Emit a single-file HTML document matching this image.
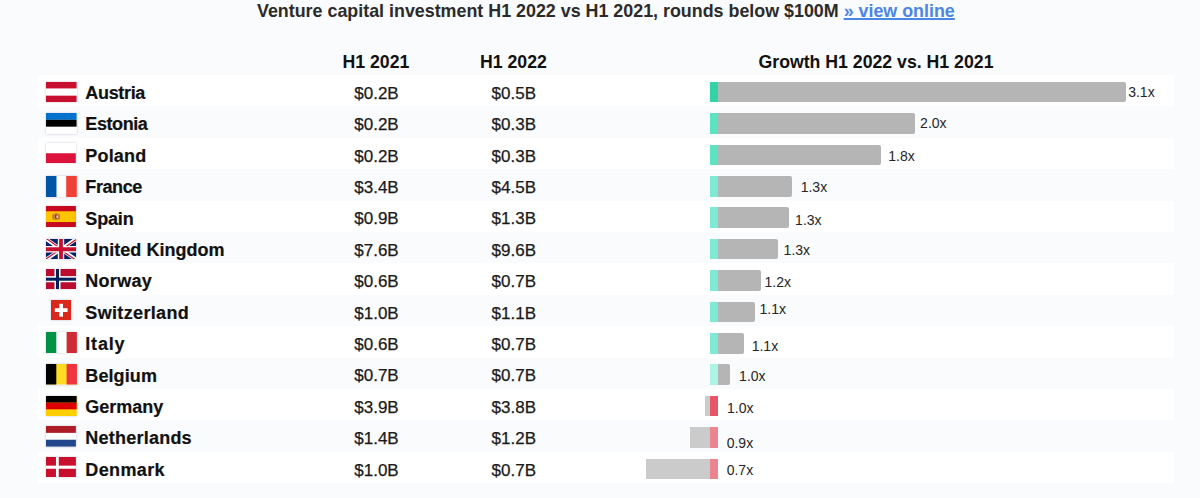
<!DOCTYPE html>
<html><head><meta charset="utf-8"><style>
*{margin:0;padding:0;box-sizing:border-box}
html,body{width:1200px;height:498px;overflow:hidden;background:#fafbfd}
body{position:relative;font-family:"Liberation Sans",Arial,sans-serif;color:#111}
.a{position:absolute;white-space:nowrap}
.row{position:absolute;left:38px;width:1136px;background:#fff}
.t{font-weight:700;font-size:17.88px;color:#2b2b2b;line-height:1}
.t a{color:#4a86e8;text-decoration:underline;text-underline-offset:1px;text-decoration-thickness:1.6px}
.h{font-weight:700;font-size:17.7px;color:#111;line-height:1}
.n{font-weight:700;font-size:18px;color:#111;-webkit-text-stroke:0.2px #111;line-height:1}
.v{font-weight:400;font-size:17px;color:#1a1a1a;-webkit-text-stroke:0.25px #1a1a1a;line-height:1;text-align:center;width:100px}
.l{font-weight:400;font-size:14px;color:#262626;line-height:1}
.bar{position:absolute;height:20.5px}
.fl{display:block;box-shadow:0 0 2px rgba(0,0,60,.22)}
</style></head><body>

<div class="row" style="top:75.00px;height:31.40px"></div>
<div class="row" style="top:137.80px;height:31.40px"></div>
<div class="row" style="top:200.60px;height:31.40px"></div>
<div class="row" style="top:263.40px;height:31.40px"></div>
<div class="row" style="top:326.20px;height:31.40px"></div>
<div class="row" style="top:389.00px;height:31.40px"></div>
<div class="row" style="top:451.80px;height:31.40px"></div>
<div class="a t" style="left:257px;top:3.07px">Venture capital investment H1 2022 vs H1 2021, rounds below $100M <a>» view online</a></div>
<div class="a h" style="left:342.5px;top:54.29px">H1 2021</div>
<div class="a h" style="left:480px;top:54.29px">H1 2022</div>
<div class="a h" style="left:758.5px;top:54.29px">Growth H1 2022 vs. H1 2021</div>
<svg class="a fl" style="left:46.3px;top:81.8px" width="30.6" height="20.1" viewBox="0 0 30 20" preserveAspectRatio="none"><rect width="30" height="20" fill="#fff"/><rect width="30" height="6.4" fill="#c8102e"/><rect y="13.6" width="30" height="6.4" fill="#c8102e"/></svg>
<div class="a n" style="left:85.3px;top:84.05px;letter-spacing:-0.333px">Austria</div>
<div class="a v" style="left:326.5px;top:84.78px">$0.2B</div>
<div class="a v" style="left:463.8px;top:84.78px">$0.5B</div>
<div class="bar" style="left:709.6px;top:81.85px;width:8.4px;background:#33d3a8"></div>
<div class="bar" style="left:718px;top:81.85px;width:407.70px;background:#b5b5b5;border-radius:0 2px 2px 0"></div>
<div class="a l" style="left:1128.20px;top:84.67px">3.1x</div>
<svg class="a fl" style="left:46.3px;top:113.1px" width="30.6" height="20.5" viewBox="0 0 30 20" preserveAspectRatio="none"><rect width="30" height="20" fill="#fff"/><rect width="30" height="6.67" fill="#0072ce"/><rect y="6.67" width="30" height="6.67" fill="#000"/></svg>
<div class="a n" style="left:85.3px;top:115.45px;letter-spacing:-0.417px">Estonia</div>
<div class="a v" style="left:326.5px;top:116.18px">$0.2B</div>
<div class="a v" style="left:463.8px;top:116.18px">$0.3B</div>
<div class="bar" style="left:709.6px;top:113.25px;width:8.4px;background:#5de2c2"></div>
<div class="bar" style="left:718px;top:113.25px;width:196.90px;background:#b5b5b5;border-radius:0 2px 2px 0"></div>
<div class="a l" style="left:920.10px;top:116.07px">2.0x</div>
<svg class="a fl" style="left:46.4px;top:142.9px" width="29.8" height="20.5" viewBox="0 0 30 20" preserveAspectRatio="none"><rect width="30" height="20" fill="#fff"/><rect y="10" width="30" height="10" fill="#dc143c"/></svg>
<div class="a n" style="left:85.3px;top:146.85px;letter-spacing:0.180px">Poland</div>
<div class="a v" style="left:326.5px;top:147.58px">$0.2B</div>
<div class="a v" style="left:463.8px;top:147.58px">$0.3B</div>
<div class="bar" style="left:709.6px;top:144.65px;width:8.4px;background:#5de2c2"></div>
<div class="bar" style="left:718px;top:144.65px;width:163.10px;background:#b5b5b5;border-radius:0 2px 2px 0"></div>
<div class="a l" style="left:888.30px;top:149.47px">1.8x</div>
<svg class="a fl" style="left:46.1px;top:175.7px" width="30.8" height="21.1" viewBox="0 0 30 20" preserveAspectRatio="none"><rect width="30" height="20" fill="#fff"/><rect width="10.2" height="20" fill="#0055a4"/><rect x="19.7" width="10.3" height="20" fill="#ef4135"/></svg>
<div class="a n" style="left:85.3px;top:178.25px;letter-spacing:-0.400px">France</div>
<div class="a v" style="left:326.5px;top:178.98px">$3.4B</div>
<div class="a v" style="left:463.8px;top:178.98px">$4.5B</div>
<div class="bar" style="left:709.6px;top:176.05px;width:8.4px;background:#7fe9d3"></div>
<div class="bar" style="left:718px;top:176.05px;width:74.00px;background:#b5b5b5;border-radius:0 2px 2px 0"></div>
<div class="a l" style="left:800.70px;top:180.37px">1.3x</div>
<svg class="a fl" style="left:46.3px;top:205.9px" width="29.9" height="21.1" viewBox="0 0 30 20" preserveAspectRatio="none"><rect width="30" height="20" fill="#c60b1e"/><rect y="5" width="30" height="10.2" fill="#ffc400"/><ellipse cx="10.1" cy="10.1" rx="3.7" ry="3.4" fill="#c98a3a"/><rect x="9.2" y="8.2" width="2.6" height="3.6" fill="#ad1519"/><rect x="10.4" y="9" width="1.6" height="2.2" fill="#f3e2d2"/><rect x="6.6" y="8" width="1" height="4.6" fill="#b07a2a"/><rect x="13" y="8" width="1" height="4.6" fill="#b07a2a"/></svg>
<div class="a n" style="left:85.3px;top:209.65px;letter-spacing:-0.150px">Spain</div>
<div class="a v" style="left:326.5px;top:210.38px">$0.9B</div>
<div class="a v" style="left:463.8px;top:210.38px">$1.3B</div>
<div class="bar" style="left:709.6px;top:207.45px;width:8.4px;background:#7fe9d3"></div>
<div class="bar" style="left:718px;top:207.45px;width:71.40px;background:#b5b5b5;border-radius:0 2px 2px 0"></div>
<div class="a l" style="left:795.10px;top:212.97px">1.3x</div>
<svg class="a fl" style="left:46.2px;top:238.6px" width="30.0" height="20.6" viewBox="0 0 30 20" preserveAspectRatio="none"><clipPath id="c"><rect width="30" height="20"/></clipPath><g clip-path="url(#c)"><rect width="30" height="20" fill="#012169"/><path d="M0,0 L30,20 M30,0 L0,20" stroke="#fff" stroke-width="3.6"/><path d="M0,-0.6 L15,9.4 M30,0.6 L15,10.6 M0,19.4 L15,9.4 M30,20.6 L15,10.6" stroke="#c8102e" stroke-width="1.2"/><path d="M15,0 V20 M0,10 H30" stroke="#fff" stroke-width="6.4"/><path d="M15,0 V20 M0,10 H30" stroke="#c8102e" stroke-width="3.8"/></g></svg>
<div class="a n" style="left:85.3px;top:241.05px;letter-spacing:0.015px">United Kingdom</div>
<div class="a v" style="left:326.5px;top:241.78px">$7.6B</div>
<div class="a v" style="left:463.8px;top:241.78px">$9.6B</div>
<div class="bar" style="left:709.6px;top:238.85px;width:8.4px;background:#7fe9d3"></div>
<div class="bar" style="left:718px;top:238.85px;width:60.00px;background:#b5b5b5;border-radius:0 2px 2px 0"></div>
<div class="a l" style="left:783.60px;top:243.47px">1.3x</div>
<svg class="a fl" style="left:46.2px;top:268.5px" width="30.0" height="20.4" viewBox="0 0 30 20" preserveAspectRatio="none"><rect width="30" height="20" fill="#ba0c2f"/><rect x="8.5" width="6" height="20" fill="#fff"/><rect y="7" width="30" height="6" fill="#fff"/><rect x="10" width="3" height="20" fill="#00205b"/><rect y="8.5" width="30" height="3" fill="#00205b"/></svg>
<div class="a n" style="left:85.3px;top:272.45px;letter-spacing:0.280px">Norway</div>
<div class="a v" style="left:326.5px;top:273.18px">$0.6B</div>
<div class="a v" style="left:463.8px;top:273.18px">$0.7B</div>
<div class="bar" style="left:709.6px;top:270.25px;width:8.4px;background:#7fe9d3"></div>
<div class="bar" style="left:718px;top:270.25px;width:43.40px;background:#b5b5b5;border-radius:0 2px 2px 0"></div>
<div class="a l" style="left:764.50px;top:275.07px">1.2x</div>
<svg class="a fl" style="left:51.0px;top:300.1px" width="20.2" height="20.0" viewBox="0 0 20 20" preserveAspectRatio="none"><rect width="20" height="20" fill="#da291c"/><rect x="8.2" y="3.8" width="3.7" height="12.9" fill="#fff"/><rect x="3.8" y="8.2" width="12.6" height="3.8" fill="#fff"/></svg>
<div class="a n" style="left:85.3px;top:303.85px;letter-spacing:0.350px">Switzerland</div>
<div class="a v" style="left:326.5px;top:304.58px">$1.0B</div>
<div class="a v" style="left:463.8px;top:304.58px">$1.1B</div>
<div class="bar" style="left:709.6px;top:301.65px;width:8.4px;background:#7fe9d3"></div>
<div class="bar" style="left:718px;top:301.65px;width:36.60px;background:#b5b5b5;border-radius:0 2px 2px 0"></div>
<div class="a l" style="left:759.50px;top:302.17px">1.1x</div>
<svg class="a fl" style="left:46.1px;top:332.1px" width="30.9" height="21.0" viewBox="0 0 30 20" preserveAspectRatio="none"><rect width="30" height="20" fill="#fff"/><rect width="10" height="20" fill="#009246"/><rect x="20" width="10" height="20" fill="#ce2b37"/></svg>
<div class="a n" style="left:85.3px;top:335.25px;letter-spacing:0.800px">Italy</div>
<div class="a v" style="left:326.5px;top:335.98px">$0.6B</div>
<div class="a v" style="left:463.8px;top:335.98px">$0.7B</div>
<div class="bar" style="left:709.6px;top:333.05px;width:8.4px;background:#7fe9d3"></div>
<div class="bar" style="left:718px;top:333.05px;width:26.20px;background:#b5b5b5;border-radius:0 2px 2px 0"></div>
<div class="a l" style="left:751.70px;top:339.27px">1.1x</div>
<svg class="a fl" style="left:46.1px;top:364.0px" width="30.9" height="20.5" viewBox="0 0 30 20" preserveAspectRatio="none"><rect width="30" height="20" fill="#fdda24"/><rect width="10" height="20" fill="#000"/><rect x="20" width="10" height="20" fill="#ef3340"/></svg>
<div class="a n" style="left:85.3px;top:366.65px;letter-spacing:0.100px">Belgium</div>
<div class="a v" style="left:326.5px;top:367.38px">$0.7B</div>
<div class="a v" style="left:463.8px;top:367.38px">$0.7B</div>
<div class="bar" style="left:709.6px;top:364.45px;width:8.4px;background:#acf4e3"></div>
<div class="bar" style="left:718px;top:364.45px;width:11.70px;background:#b5b5b5;border-radius:0 2px 2px 0"></div>
<div class="a l" style="left:739.10px;top:368.87px">1.0x</div>
<svg class="a fl" style="left:46.3px;top:395.7px" width="30.7" height="20.0" viewBox="0 0 30 20" preserveAspectRatio="none"><rect width="30" height="20" fill="#ffce00"/><rect width="30" height="6.67" fill="#000"/><rect y="6.67" width="30" height="6.67" fill="#dd0000"/></svg>
<div class="a n" style="left:85.3px;top:398.05px;letter-spacing:-0.033px">Germany</div>
<div class="a v" style="left:326.5px;top:398.78px">$3.9B</div>
<div class="a v" style="left:463.8px;top:398.78px">$3.8B</div>
<div class="bar" style="left:704.8px;top:395.85px;width:5.20px;background:#cbcbcb"></div>
<div class="bar" style="left:710px;top:395.85px;width:8px;background:#e85566"></div>
<div class="a l" style="left:727.00px;top:401.47px">1.0x</div>
<svg class="a fl" style="left:46.3px;top:426.2px" width="29.9" height="20.6" viewBox="0 0 30 20" preserveAspectRatio="none"><rect width="30" height="20" fill="#fff"/><rect width="30" height="6.67" fill="#ae1c28"/><rect y="13.33" width="30" height="6.67" fill="#21468b"/></svg>
<div class="a n" style="left:85.3px;top:429.45px;letter-spacing:0.230px">Netherlands</div>
<div class="a v" style="left:326.5px;top:430.18px">$1.4B</div>
<div class="a v" style="left:463.8px;top:430.18px">$1.2B</div>
<div class="bar" style="left:690.0px;top:427.25px;width:20.00px;background:#cbcbcb"></div>
<div class="bar" style="left:710px;top:427.25px;width:8px;background:#ec8490"></div>
<div class="a l" style="left:726.70px;top:435.77px">0.9x</div>
<svg class="a fl" style="left:46.3px;top:456.7px" width="29.9" height="20.8" viewBox="0 0 30 20" preserveAspectRatio="none"><rect width="30" height="20" fill="#c8102e"/><rect x="10" width="2.8" height="20" fill="#fff"/><rect y="8.3" width="30" height="3" fill="#fff"/></svg>
<div class="a n" style="left:85.3px;top:460.85px;letter-spacing:0.367px">Denmark</div>
<div class="a v" style="left:326.5px;top:461.58px">$1.0B</div>
<div class="a v" style="left:463.8px;top:461.58px">$0.7B</div>
<div class="bar" style="left:645.5px;top:458.65px;width:64.50px;background:#cbcbcb"></div>
<div class="bar" style="left:710px;top:458.65px;width:8px;background:#ec8490"></div>
<div class="a l" style="left:726.70px;top:463.47px">0.7x</div>
</body></html>
